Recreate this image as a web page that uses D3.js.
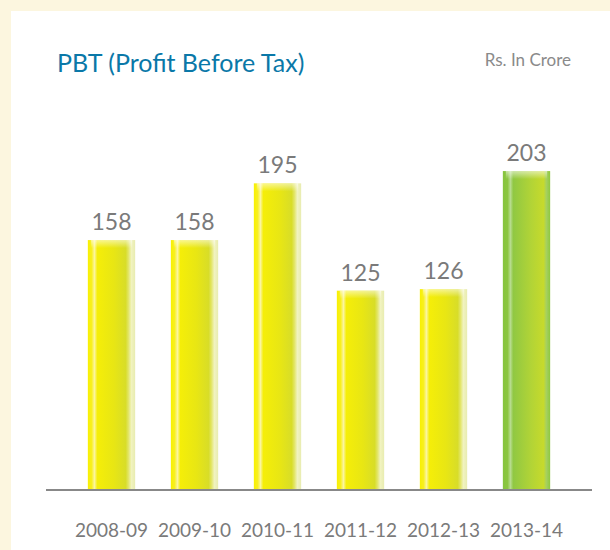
<!DOCTYPE html>
<html>
<head>
<meta charset="utf-8">
<script src="https://cdn.jsdelivr.net/npm/d3@7"></script>
<style>
  body { margin: 0; background: #fcf6df; }
  svg { display: block; }
</style>
</head>
<body>
<script>
// PBT values, Rs. in crore
var years = ["2008-09", "2009-10", "2010-11", "2011-12", "2012-13", "2013-14"];
var pbt = [158, 158, 195, 125, 126, 203];
var highlightYear = "2013-14";

var width = 610, height = 550;
var baseY = 490;

var svg = d3.select("body").append("svg")
    .attr("width", width)
    .attr("height", height);

var defs = svg.append("defs");

function barGradient(id, stops) {
    var g = defs.append("linearGradient").attr("id", id)
        .attr("x1", "0%").attr("x2", "100%").attr("y1", "0%").attr("y2", "0%");
    stops.forEach(function(s) {
        g.append("stop").attr("offset", s[0]).attr("stop-color", s[1]);
    });
}
barGradient("yellowBar", [
    ["0%", "#f8f000"], ["8%", "#f8f020"], ["14%", "#fbf5a0"], ["20%", "#f5ee08"],
    ["55%", "#e8e614"], ["80%", "#d8dd28"], ["86%", "#e3e66a"], ["92%", "#f1f3c0"], ["100%", "#e8ecb0"]
]);
barGradient("greenBar", [
    ["0%", "#86c43e"], ["10%", "#8cc640"], ["16%", "#b8dc90"], ["22%", "#90c843"],
    ["60%", "#b2d436"], ["86%", "#c6da2c"], ["92%", "#a6d060"], ["100%", "#8ec83e"]
]);
var topFade = defs.append("linearGradient").attr("id", "topFade")
    .attr("x1", "0%").attr("x2", "0%").attr("y1", "0%").attr("y2", "100%");
topFade.append("stop").attr("offset", "0%").attr("stop-color", "#fff").attr("stop-opacity", 0.55);
topFade.append("stop").attr("offset", "100%").attr("stop-color", "#fff").attr("stop-opacity", 0);

// white panel on cream background
svg.append("rect")
    .attr("x", 11).attr("y", 11)
    .attr("width", width - 11).attr("height", height - 11)
    .attr("fill", "#ffffff");

svg.append("text")
    .attr("x", 57).attr("y", 72)
    .style("font-family", "Lato, sans-serif")
    .style("font-size", "25px")
    .attr("fill", "#0a78a8")
    .text("PBT (Profit Before Tax)");

svg.append("text")
    .attr("x", 571).attr("y", 66)
    .attr("text-anchor", "end")
    .style("font-family", "Lato, sans-serif")
    .style("font-size", "17px")
    .attr("fill", "#8a8a8a")
    .text("Rs. In Crore");

var x = d3.scaleBand()
    .domain(years)
    .range([70, 568])
    .paddingInner(0.43)
    .paddingOuter(0.215);

var y = d3.scaleLinear()
    .domain([-5, 220])
    .range([baseY, baseY - 345]);

var bars = svg.append("g").selectAll("g")
    .data(years)
    .join("g");

bars.append("rect")
    .attr("x", function(d) { return x(d); })
    .attr("y", function(d, i) { return y(pbt[i]); })
    .attr("width", x.bandwidth())
    .attr("height", function(d, i) { return baseY - y(pbt[i]); })
    .attr("fill", function(d) { return d === highlightYear ? "url(#greenBar)" : "url(#yellowBar)"; });

bars.append("rect")
    .attr("x", function(d) { return x(d) + 3; })
    .attr("y", function(d, i) { return y(pbt[i]); })
    .attr("width", x.bandwidth() - 6)
    .attr("height", 8)
    .attr("fill", "url(#topFade)");

bars.append("text")
    .attr("x", function(d) { return x(d) + x.bandwidth() / 2; })
    .attr("y", function(d, i) { return y(pbt[i]) - 10; })
    .attr("text-anchor", "middle")
    .style("font-family", "Lato, sans-serif")
    .style("font-size", "23px")
    .attr("fill", "#7a7a7a")
    .text(function(d, i) { return pbt[i]; });

// baseline and category labels
var xAxis = svg.append("g")
    .attr("transform", "translate(0," + baseY + ")")
    .call(d3.axisBottom(x).tickSize(0).tickPadding(34));
xAxis.select(".domain").remove();
xAxis.append("line")
    .attr("x1", 46).attr("x2", 592)
    .attr("stroke", "#888").attr("stroke-width", 2);
xAxis.selectAll(".tick text")
    .style("font-family", "Lato, sans-serif")
    .style("font-size", "19px")
    .attr("fill", "#7a7a7a");
</script>
</body>
</html>
